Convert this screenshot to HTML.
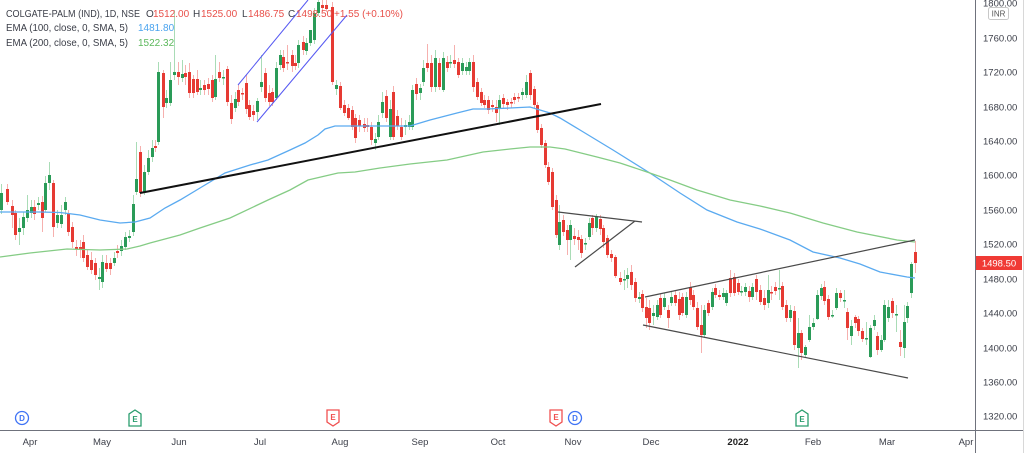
<!DOCTYPE html>
<html><head><meta charset="utf-8"><style>
html,body{margin:0;padding:0;background:#fff;}
svg{display:block;font-family:"Liberation Sans",sans-serif;}
</style></head><body>
<svg width="1024" height="453" viewBox="0 0 1024 453" xmlns="http://www.w3.org/2000/svg">
<rect width="1024" height="453" fill="#fff"/>
<g transform="translate(0.5,0)" fill="none">
<path stroke="#a9dcb6" stroke-width="1" d="M1 184V214M19 218V245M23 212V235M27 195V222M31 200V218M38 197V210M45 176V212M49 162V190M57 210V228M61 205V228M65 197V215M99 268V290M102 255V288M114 252V266M121 240V256M125 232V250M129 230V242M133 195V236M136 142V195M144 165V195M148 150V175M152 140V162M158 62V145M166 90V108M170 62V106M174 10V80M182 60V82M200 80V95M215 55V100M223 70V85M235 92V112M257 98V120M261 55V92M276 62V100M280 50V70M298 40V68M306 38V55M310 30V46M314 8V44M318 0V16M336 80V95M375 133V150M378 115V140M382 92V118M390 100V140M405 120V135M409 115V130M412 85V130M420 84V100M423 60V86M435 50V92M443 52V92M450 55V68M462 58V75M466 62V75M469 58V75M499 95V125M522 88V100M526 75V98M559 205V250M570 220V260M585 238V250M589 218V240M596 214V232M624 270V290M627 268V288M639 292V303M653 305V325M657 300V320M664 293V310M671 292V306M686 292V318M704 305V338M712 288V310M723 288V300M726 290V306M741 286V296M745 283V296M752 283V300M768 275V308M779 270V300M790 305V322M798 318V368M805 345V358M809 315V342M813 318V330M817 290V320M821 284V300M832 310V318M836 288V310M844 290V308M851 320V345M866 322V345M870 325V358M874 315V330M881 335V352M884 300V342M888 300V322M896 305V332M904 305V358M907 302V323M911 262V298"/>
<path stroke="#f6b0ae" stroke-width="1" d="M7 184V205M12 200V228M15 210V240M34 200V220M42 196V232M53 180V237M68 210V236M72 222V248M76 240V256M80 240V258M83 235V262M87 250V270M91 252V274M95 258V280M106 255V272M110 258V275M117 245V258M140 146V197M155 140V152M163 70V118M178 62V85M185 65V85M189 63V98M193 75V98M197 70V95M204 80V95M208 78V95M212 75V102M219 62V82M227 66V106M231 95V124M238 85V106M242 88V100M246 75V114M249 100V120M253 105V121M265 68V102M269 85V106M272 88V106M283 50V72M287 45V70M292 50V72M295 55V70M303 36V55M322 0V12M326 0V12M332 2V85M340 82V110M344 100V116M348 104V120M352 106V130M355 114V143M359 115V132M364 118V132M367 118V132M371 122V145M386 90V122M393 86V140M397 110V130M401 118V140M416 78V100M427 44V72M431 55V92M439 58V90M447 56V72M454 45V68M458 58V78M473 55V92M477 78V100M481 88V106M484 95V108M488 96V114M492 100V112M496 100V122M503 94V108M507 99V110M511 98V108M514 93V104M518 93V102M530 70V100M534 86V108M537 102V133M541 124V148M545 140V168M548 162V185M552 168V210M556 195V238M563 215V236M567 225V255M574 228V245M578 230V250M581 235V258M592 215V235M600 215V235M603 225V248M607 235V258M611 250V262M615 255V278M620 272V285M631 265V290M635 278V302M642 290V312M646 298V328M649 300V330M660 294V318M668 305V328M675 290V306M679 292V320M682 293V316M690 282V305M693 290V310M697 302V330M701 305V353M708 300V316M715 284V298M719 290V300M730 270V297M734 273V296M738 279V295M749 286V302M756 275V300M760 285V305M764 290V310M771 286V300M775 282V295M782 282V310M786 300V322M794 306V350M801 330V360M824 281V305M828 295V320M840 290V302M847 308V340M855 315V328M858 316V336M862 328V342M877 332V355M892 298V318M900 330V356M915 241V273"/>
<path stroke="#2a9b58" stroke-width="3" d="M1 193V210M19 228V232M23 217V228M27 210V218M31 207V213M38 203V205M45 183V210M49 175V183M57 215V223M61 215V224M65 202V210M99 277V279M102 262V282M114 258V263M121 246V251M125 237V247M129 236V238M133 204V232M136 179V192M144 172V192M148 158V172M152 148V157M158 72V142M166 98V103M170 80V103M174 72V75M182 74V78M200 88V90M215 79V97M223 77V78.5M235 99V108M257 101V112M261 82V87M276 68V98M280 55V65M298 45V63M306 43V51M310 30V43M314 13V40M318 2V13M336 85V89M375 139V143M378 122V137M382 102V113M390 109V137M405 125V127M409 122V127M412 90V127M420 88V93M423 68V82M435 58V87M443 58V90M450 62V63.5M462 63V71M466 67V71M469 62V71M499 100V108M522 92V95M526 82V95M559 222V245M570 225V240M585 243V244.5M589 223V237M596 217V228M624 279V280.5M627 275V279M639 297V299M653 313V316M657 305V317M664 298V307M671 297V303M686 297V315M704 310V335M712 292V307M723 293V297M726 293V303M741 291V292.5M745 287V292M752 287V297M768 290V303M779 288V289.5M790 310V318M798 333V348M805 347V355M809 327V340M813 323V327M817 295V319M821 288V296M832 315V316.5M836 293V308M844 300V301.5M851 326V336M866 338V339.5M870 328V357M874 320V326M881 340V350M884 305V340M888 307V318M896 314V315.5M904 322V348M907 306V318M911 264V293"/>
<path stroke="#e63a33" stroke-width="3" d="M7 189V202M12 206V215M15 213V235M34 207V214M42 202V218M53 183V227M68 214V232M72 227V242M76 247V249M80 247V250M83 242V258M87 255V267M91 260V270M95 263V275M106 263V269M110 263V269M117 251V253M140 152V193M155 146V148M163 73V107M178 72V77M185 73V77M189 72V93M193 79V93M197 79V92M204 85V90M208 84V89M212 80V98M219 72V78M227 69V102M231 103V119M238 90V102M242 93V94.5M246 83V109M249 105V117M253 111V115M265 73V98M269 93V102M272 92V102M283 57V68M287 62V63.5M292 55V66M295 63V66M303 42V50M322 5V8M326 5V9M332 7V82M340 86V108M344 105V113M348 108V118M352 110V127M355 118V138M359 120V126M364 124V128M367 125V127M371 127V140M386 96V118M393 92V137M397 116V126M401 127V137M416 84V94M427 63V68M431 63V87M439 63V87M447 62V68M454 60V64M458 62V75M473 62V87M477 82V97M481 92V103M484 100V105M488 100V110M492 105V107M496 107V113M503 98V104M507 102V105M511 102V103.5M514 97V100M518 97V98.5M530 73V95M534 89V105M537 105V130M541 128V145M545 143V165M548 167V182M552 172V207M556 200V235M563 220V232M567 230V240M574 236V239M578 237V240M581 239V253M592 218V228M600 219V229M603 228V242M607 238V255M611 254V258M615 257V276M620 278V282M631 272V285M635 282V298M642 294V308M646 307V318M649 308V323M660 298V315M668 310V318M675 295V303M679 299V315M682 297V313M690 287V300M693 295V307M697 308V327M701 325V335M708 303V313M715 288V295M719 295V297M730 278V293M734 277V293M738 283V292M749 291V297M756 279V292M760 290V302M764 298V305M771 292V293.5M775 287V291M782 286V307M786 305V318M794 311V345M801 333V353M824 287V301M828 299V317M840 293V298M847 312V328M855 317V323M858 319V331M862 331V339M877 336V350M892 301V313M900 342V347M915 252V263"/>
</g>
<!-- EMAs -->
<polyline fill="none" stroke="#5aaaf0" stroke-width="1.3" points="0,212 20,212 40,212 60,212.5 80,215 100,220 120,223 135,222 150,218 165,208 180,200 200,188 225,173 250,165 268,160 290,150 305,143 318,135 325,129 335,126 355,126 380,126 410,126 430,120 457,113 473,109 487,109 510,108 530,107 540,110 550,113 560,118 580,130 613,150 653,175 680,193 707,210 737,222 760,229 790,240 813,252 840,258 860,264 880,272 907,277 915,278"/>
<polyline fill="none" stroke="#85cc85" stroke-width="1.3" points="0,257 30,253 67,249 100,250 127,249 140,246 150,243 165,239 180,235 200,228 230,218 268,200 290,190 308,180 338,173 355,172 380,168 410,164 447,160 483,152 510,149 530,147 550,147 565,149 597,157 620,163 647,172 670,180 697,190 730,200 760,206 790,213 823,223 857,232 897,240 915,242"/>
<!-- drawings -->
<line x1="140" y1="193" x2="601" y2="104" stroke="#111" stroke-width="2"/>
<line x1="238" y1="85" x2="308" y2="0" stroke="#5558f2" stroke-width="1"/>
<line x1="257" y1="122" x2="347" y2="15" stroke="#5558f2" stroke-width="1"/>
<g stroke="#4a4a4a" stroke-width="1.2">
<line x1="558" y1="212" x2="642" y2="222"/>
<line x1="575" y1="267" x2="635" y2="221"/>
<line x1="645" y1="297" x2="915" y2="240"/>
<line x1="643" y1="325" x2="908" y2="378"/>
</g>
<!-- legend -->
<g font-size="10" fill="#3b3e48">
<text x="6" y="17" textLength="134" lengthAdjust="spacingAndGlyphs">COLGATE-PALM (IND), 1D, NSE</text>
<text x="146" y="17">O</text><text x="153" y="17" fill="#e8504a">1512.00</text>
<text x="193" y="17">H</text><text x="201" y="17" fill="#e8504a">1525.00</text>
<text x="242" y="17">L</text><text x="248" y="17" fill="#e8504a">1486.75</text>
<text x="288" y="17">C</text><text x="296" y="17" fill="#e8504a">1498.50</text>
<text x="334" y="17" fill="#e8504a">+1.55 (+0.10%)</text>
<text x="6" y="31" textLength="122" lengthAdjust="spacingAndGlyphs">EMA (100, close, 0, SMA, 5)</text>
<text x="138" y="31" fill="#4aa3ee">1481.80</text>
<text x="6" y="46" textLength="122" lengthAdjust="spacingAndGlyphs">EMA (200, close, 0, SMA, 5)</text>
<text x="138" y="46" fill="#5cb85c">1522.32</text>
</g>
<!-- event markers -->
<g font-size="8" font-weight="bold" text-anchor="middle">
<circle cx="22" cy="418" r="6.5" fill="#fff" stroke="#3f73f5" stroke-width="1.3"/><text x="22" y="421" fill="#3f73f5">D</text>
<polygon points="135,410 141,414 141,426 129,426 129,414" fill="#fff" stroke="#2a9d6e" stroke-width="1.3"/><text x="135" y="422" fill="#2a9d6e">E</text>
<polygon points="327,410 339,410 339,422 333,426 327,422" fill="#fff" stroke="#f05050" stroke-width="1.3"/><text x="333" y="420" fill="#f05050">E</text>
<polygon points="550,410 562,410 562,422 556,426 550,422" fill="#fff" stroke="#f05050" stroke-width="1.3"/><text x="556" y="420" fill="#f05050">E</text>
<circle cx="575" cy="418" r="6.5" fill="#fff" stroke="#3f73f5" stroke-width="1.3"/><text x="575" y="421" fill="#3f73f5">D</text>
<polygon points="802,410 808,414 808,426 796,426 796,414" fill="#fff" stroke="#2a9d6e" stroke-width="1.3"/><text x="802" y="422" fill="#2a9d6e">E</text>
</g>
<!-- time axis -->
<line x1="0" y1="430.5" x2="1024" y2="430.5" stroke="#6f727c" stroke-width="1"/>
<g font-size="9.5" fill="#3b3e48" text-anchor="middle">
<text x="30" y="445">Apr</text><text x="102" y="445">May</text><text x="179" y="445">Jun</text>
<text x="260" y="445">Jul</text><text x="340" y="445">Aug</text><text x="420" y="445">Sep</text>
<text x="498" y="445">Oct</text><text x="573" y="445">Nov</text><text x="651" y="445">Dec</text>
<text x="738" y="445" font-weight="bold" fill="#222">2022</text><text x="813" y="445">Feb</text>
<text x="887" y="445">Mar</text><text x="966" y="445">Apr</text>
</g>
<!-- price axis -->
<rect x="976" y="0" width="48" height="453" fill="#fff"/>
<line x1="975.5" y1="0" x2="975.5" y2="453" stroke="#6f727c" stroke-width="1"/>
<line x1="976" y1="430.5" x2="1024" y2="430.5" stroke="#6f727c" stroke-width="1"/>
<line x1="1023.5" y1="0" x2="1023.5" y2="453" stroke="#d8d8d8" stroke-width="1"/>
<g font-size="9.5" fill="#3b3e48">
<text x="983" y="6.5">1800.00</text>
<text x="983" y="41.5">1760.00</text>
<text x="983" y="75.5">1720.00</text>
<text x="983" y="110.5">1680.00</text>
<text x="983" y="144.5">1640.00</text>
<text x="983" y="178.5">1600.00</text>
<text x="983" y="213.5">1560.00</text>
<text x="983" y="247.5">1520.00</text>
<text x="983" y="282.5">1480.00</text>
<text x="983" y="316.5">1440.00</text>
<text x="983" y="351.5">1400.00</text>
<text x="983" y="385.5">1360.00</text>
<text x="983" y="419.5">1320.00</text>
</g>
<rect x="988.5" y="7.5" width="20" height="12" rx="2" fill="#fff" stroke="#c8c8c8"/>
<text x="998.5" y="16.5" font-size="8" fill="#555" text-anchor="middle">INR</text>
<rect x="976" y="256" width="46" height="14" fill="#f03a35"/>
<text x="999" y="266.5" font-size="9.5" fill="#fff" text-anchor="middle">1498.50</text>
</svg>
</body></html>
